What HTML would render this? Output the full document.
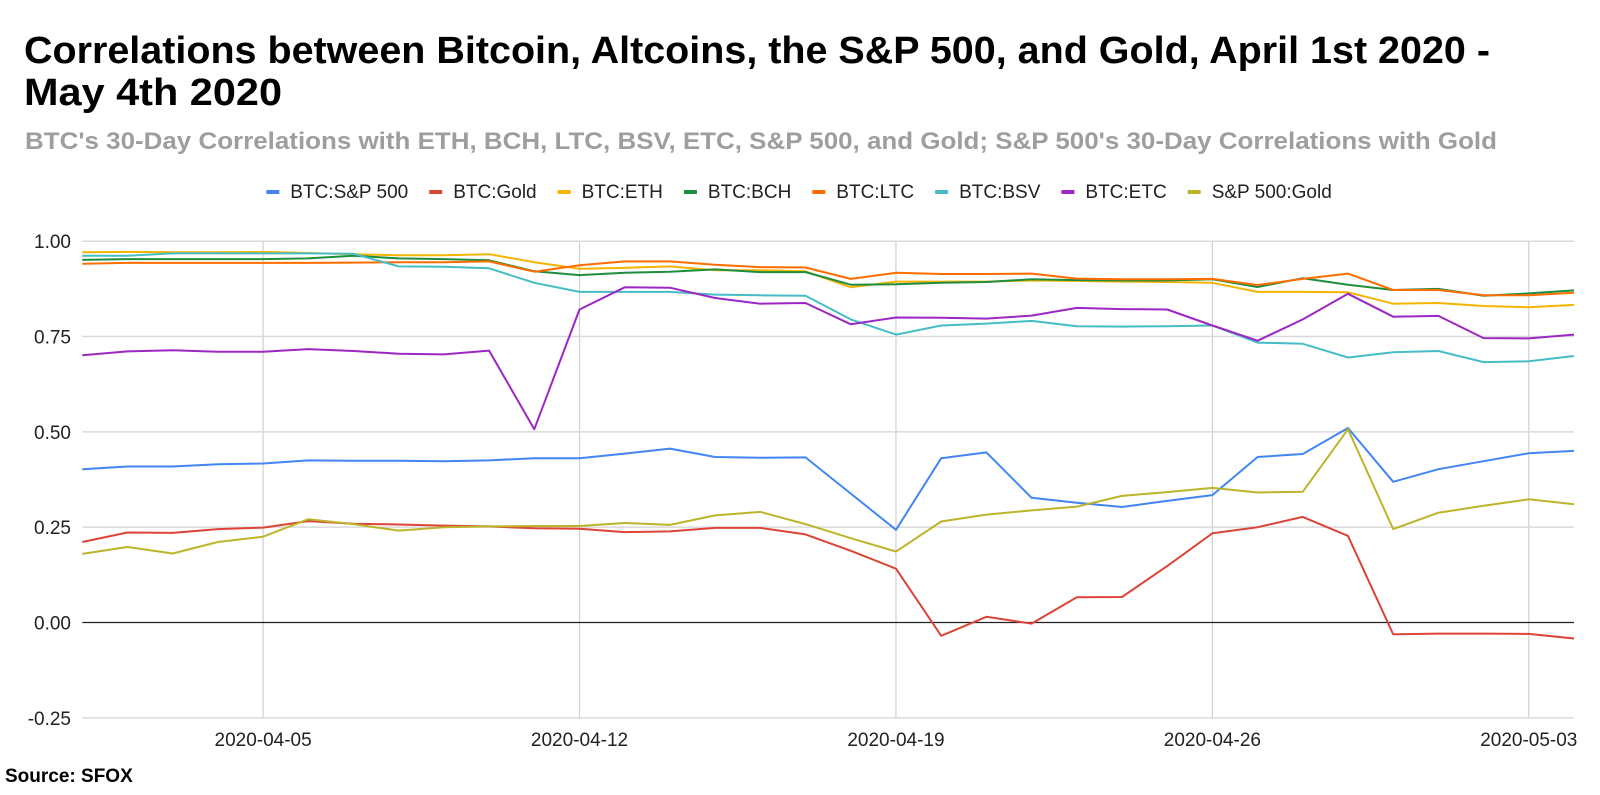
<!DOCTYPE html>
<html><head><meta charset="utf-8"><style>
body{margin:0;background:#fff;font-family:"Liberation Sans",Arial,sans-serif;}
svg text{font-family:"Liberation Sans",Arial,sans-serif;}
</style></head><body>
<svg width="1600" height="790" xmlns="http://www.w3.org/2000/svg">
<text x="24" y="63" font-size="38" font-weight="bold" fill="#000" textLength="1466" lengthAdjust="spacingAndGlyphs">Correlations between Bitcoin, Altcoins, the S&amp;P 500, and Gold, April 1st 2020 -</text>
<text x="24" y="105" font-size="38" font-weight="bold" fill="#000" textLength="258" lengthAdjust="spacingAndGlyphs">May 4th 2020</text>
<text x="25" y="149" font-size="24" font-weight="bold" fill="#9e9e9e" textLength="1472" lengthAdjust="spacingAndGlyphs">BTC's 30-Day Correlations with ETH, BCH, LTC, BSV, ETC, S&amp;P 500, and Gold; S&amp;P 500's 30-Day Correlations with Gold</text>
<g id="legend"></g>
<g id="grid"></g>
<g id="series"></g>
<text x="5" y="782" font-size="19" font-weight="bold" fill="#000">Source: SFOX</text>
</svg>
<script>
const dates=['2020-04-05','2020-04-12','2020-04-19','2020-04-26','2020-05-03'];
const dateIdx=[4,11,18,25,32];
const yTicks=[1.00,0.75,0.50,0.25,0.00,-0.25];
const names=['BTC:S&P 500','BTC:Gold','BTC:ETH','BTC:BCH','BTC:LTC','BTC:BSV','BTC:ETC','S&P 500:Gold'];
const colors=['#4285f4','#db4437','#f4b400','#1e8e3e','#ff6d00','#46bdc6','#9c27c4','#bcb42a'];
const spx=[.402,.409,.409,.415,.417,.425,.424,.424,.423,.425,.431,.431,.443,.456,.434,.432,.433,.338,.243,.431,.446,.327,.314,.303,.319,.334,.434,.442,.510,.369,.402,.423,.444,.450];
const gold=[.211,.236,.235,.245,.249,.266,.259,.257,.254,.252,.247,.246,.237,.239,.248,.248,.231,.188,.141,-.035,.015,-.003,.066,.067,.148,.234,.250,.277,.227,-.031,-.029,-.029,-.030,-.042];
const eth=[.971,.972,.971,.971,.972,.969,.966,.963,.963,.966,.945,.928,.930,.934,.924,.924,.921,.879,.894,.894,.894,.897,.896,.894,.893,.891,.867,.867,.866,.836,.838,.830,.827,.833];
const bch=[.951,.953,.953,.953,.953,.955,.962,.955,.953,.950,.921,.911,.917,.920,.926,.919,.919,.886,.887,.891,.893,.900,.898,.897,.897,.900,.880,.903,.886,.872,.875,.857,.863,.871];
const ltc=[.941,.943,.943,.943,.943,.943,.944,.945,.945,.947,.920,.937,.947,.947,.938,.932,.931,.901,.917,.914,.914,.915,.902,.900,.900,.901,.885,.901,.915,.872,.872,.858,.858,.865];
const bsv=[.962,.962,.968,.968,.968,.968,.967,.934,.933,.929,.891,.867,.867,.867,.860,.858,.857,.795,.755,.779,.784,.791,.777,.776,.777,.779,.734,.731,.695,.709,.712,.683,.685,.699];
const etc=[.701,.711,.714,.710,.710,.717,.712,.705,.703,.713,.507,.821,.879,.878,.851,.836,.838,.782,.800,.799,.797,.805,.825,.822,.821,.779,.739,.795,.862,.802,.804,.746,.745,.755];
const spxGold=[.180,.198,.181,.211,.225,.271,.258,.241,.250,.252,.253,.253,.261,.256,.281,.290,.258,.221,.186,.265,.283,.294,.304,.332,.342,.353,.341,.343,.507,.245,.288,.306,.323,.310];
const allSeries=[spx,gold,eth,bch,ltc,bsv,etc,spxGold];
const NS='http://www.w3.org/2000/svg';
const X0=82.3,X1=1574,N=34;
const xs=i=>X0+i*(X1-X0)/(N-1);
const ys=v=>622.5-v*381.3;
function mk(tag,attrs,parent,txt){const e=document.createElementNS(NS,tag);for(const k in attrs)e.setAttribute(k,attrs[k]);if(txt!==undefined)e.textContent=txt;parent.appendChild(e);return e;}
const grid=document.getElementById('grid');
dates.forEach((d,k)=>{
 const x=xs(dateIdx[k]);
 const l=mk('line',{x1:x,x2:x,y1:ys(1),y2:ys(-0.25),stroke:'#d0d0d0','stroke-width':1.2},grid);
 
 
 const t=mk('text',{x:x,y:746,'text-anchor':'middle','font-size':19,fill:'#222'},grid,d);
 
 
});
yTicks.forEach(v=>{
 const l=mk('line',{x1:X0,x2:X1,y1:ys(v),y2:ys(v),stroke:v===0?'#222':'#d9d9d9','stroke-width':v===0?1.3:1.5},grid);
 
 
 const t=mk('text',{x:71,y:ys(v)+7,'text-anchor':'end','font-size':19,fill:'#222'},grid,v.toFixed(2));
 
 
});
const sg=document.getElementById('series');
allSeries.forEach((s,j)=>{
 const p=mk('polyline',{points:s.map((v,i)=>xs(i).toFixed(1)+','+ys(v).toFixed(1)).join(' '),fill:'none',stroke:colors[j],'stroke-width':2,'stroke-linejoin':'round'},sg);
 
 
});
const lg=document.getElementById('legend');
const groups=[];let cx=0;
names.forEach((n,j)=>{
 const g=mk('g',{},lg);
 
 
 mk('line',{x1:0,x2:13,y1:192,y2:192,stroke:colors[j],'stroke-width':4},g);
 const t=mk('text',{x:24,y:198,'font-size':19,fill:'#222'},g,n);
 const w=24+t.getComputedTextLength();
 groups.push([g,cx]);cx+=w+21;
});
const total=cx-21, start=799-total/2;
groups.forEach(([g,o])=>g.setAttribute('transform','translate('+(start+o).toFixed(1)+',0)'));
</script>
</body></html>
